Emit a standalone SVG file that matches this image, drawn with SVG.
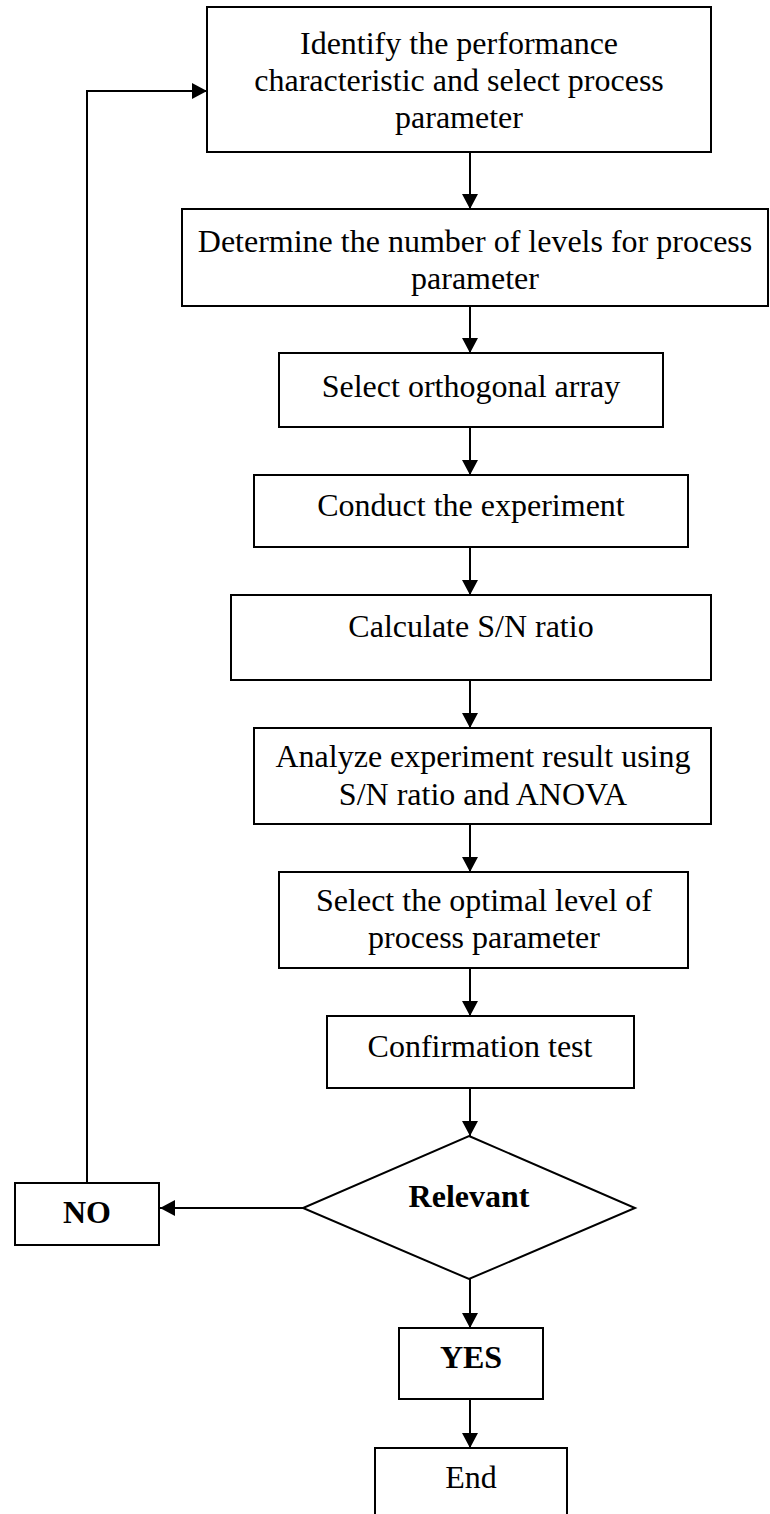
<svg xmlns="http://www.w3.org/2000/svg" width="770" height="1514" viewBox="0 0 770 1514">
<style>
.box{fill:#fff;stroke:#000;stroke-width:2}
.t{font-family:"Liberation Serif","Times New Roman",serif;font-size:32px;fill:#000;text-anchor:middle}
.b{font-weight:bold}
.c{fill:none;stroke:#000;stroke-width:2}
</style>
<defs>
<marker id="ah" markerUnits="userSpaceOnUse" markerWidth="15" markerHeight="16" refX="15" refY="8" orient="auto">
<path d="M0,0 L15,8 L0,16 z" fill="#000"/>
</marker>
</defs>
<rect width="770" height="1514" fill="#fff"/>
<g id="connectors">
<line class="c" x1="470" y1="152" x2="470" y2="209" marker-end="url(#ah)"/>
<line class="c" x1="470" y1="306" x2="470" y2="353" marker-end="url(#ah)"/>
<line class="c" x1="470" y1="427" x2="470" y2="475" marker-end="url(#ah)"/>
<line class="c" x1="470" y1="547" x2="470" y2="595" marker-end="url(#ah)"/>
<line class="c" x1="470" y1="680" x2="470" y2="728" marker-end="url(#ah)"/>
<line class="c" x1="470" y1="824" x2="470" y2="872" marker-end="url(#ah)"/>
<line class="c" x1="470" y1="968" x2="470" y2="1016" marker-end="url(#ah)"/>
<line class="c" x1="470" y1="1088" x2="470" y2="1136" marker-end="url(#ah)"/>
<line class="c" x1="470" y1="1279" x2="470" y2="1328" marker-end="url(#ah)"/>
<line class="c" x1="470" y1="1399" x2="470" y2="1448" marker-end="url(#ah)"/>
<line class="c" x1="303" y1="1208" x2="160" y2="1208" marker-end="url(#ah)"/>
<polyline class="c" points="87,1183 87,91 207,91" marker-end="url(#ah)"/>
</g>
<g id="n1">
<rect class="box" x="207" y="7" width="504" height="145"/>
<text class="t" x="459" y="54">Identify the performance</text>
<text class="t" x="459" y="91">characteristic and select process</text>
<text class="t" x="459" y="128">parameter</text>
</g>
<g id="n2">
<rect class="box" x="182" y="209" width="586" height="97"/>
<text class="t" x="475" y="252">Determine the number of levels for process</text>
<text class="t" x="475" y="289">parameter</text>
</g>
<g id="n3">
<rect class="box" x="279" y="353" width="384" height="74"/>
<text class="t" x="471" y="397">Select orthogonal array</text>
</g>
<g id="n4">
<rect class="box" x="254" y="475" width="434" height="72"/>
<text class="t" x="471" y="516">Conduct the experiment</text>
</g>
<g id="n5">
<rect class="box" x="231" y="595" width="480" height="85"/>
<text class="t" x="471" y="637">Calculate S/N ratio</text>
</g>
<g id="n6">
<rect class="box" x="254" y="728" width="457" height="96"/>
<text class="t" x="483" y="767">Analyze experiment result using</text>
<text class="t" x="483" y="805">S/N ratio and ANOVA</text>
</g>
<g id="n7">
<rect class="box" x="279" y="872" width="409" height="96"/>
<text class="t" x="484" y="911">Select the optimal level of</text>
<text class="t" x="484" y="948">process parameter</text>
</g>
<g id="n8">
<rect class="box" x="327" y="1016" width="307" height="72"/>
<text class="t" x="480" y="1057">Confirmation test</text>
</g>
<g id="n9">
<polygon class="box" points="469,1136 635,1208 469,1279 303,1208"/>
<text class="t b" x="469" y="1207">Relevant</text>
</g>
<g id="n10">
<rect class="box" x="15" y="1183" width="144" height="62"/>
<text class="t b" x="87" y="1223">NO</text>
</g>
<g id="n11">
<rect class="box" x="399" y="1328" width="144" height="71"/>
<text class="t b" x="471" y="1368">YES</text>
</g>
<g id="n12">
<rect class="box" x="375" y="1448" width="192" height="80"/>
<text class="t" x="471" y="1488">End</text>
</g>
</svg>
